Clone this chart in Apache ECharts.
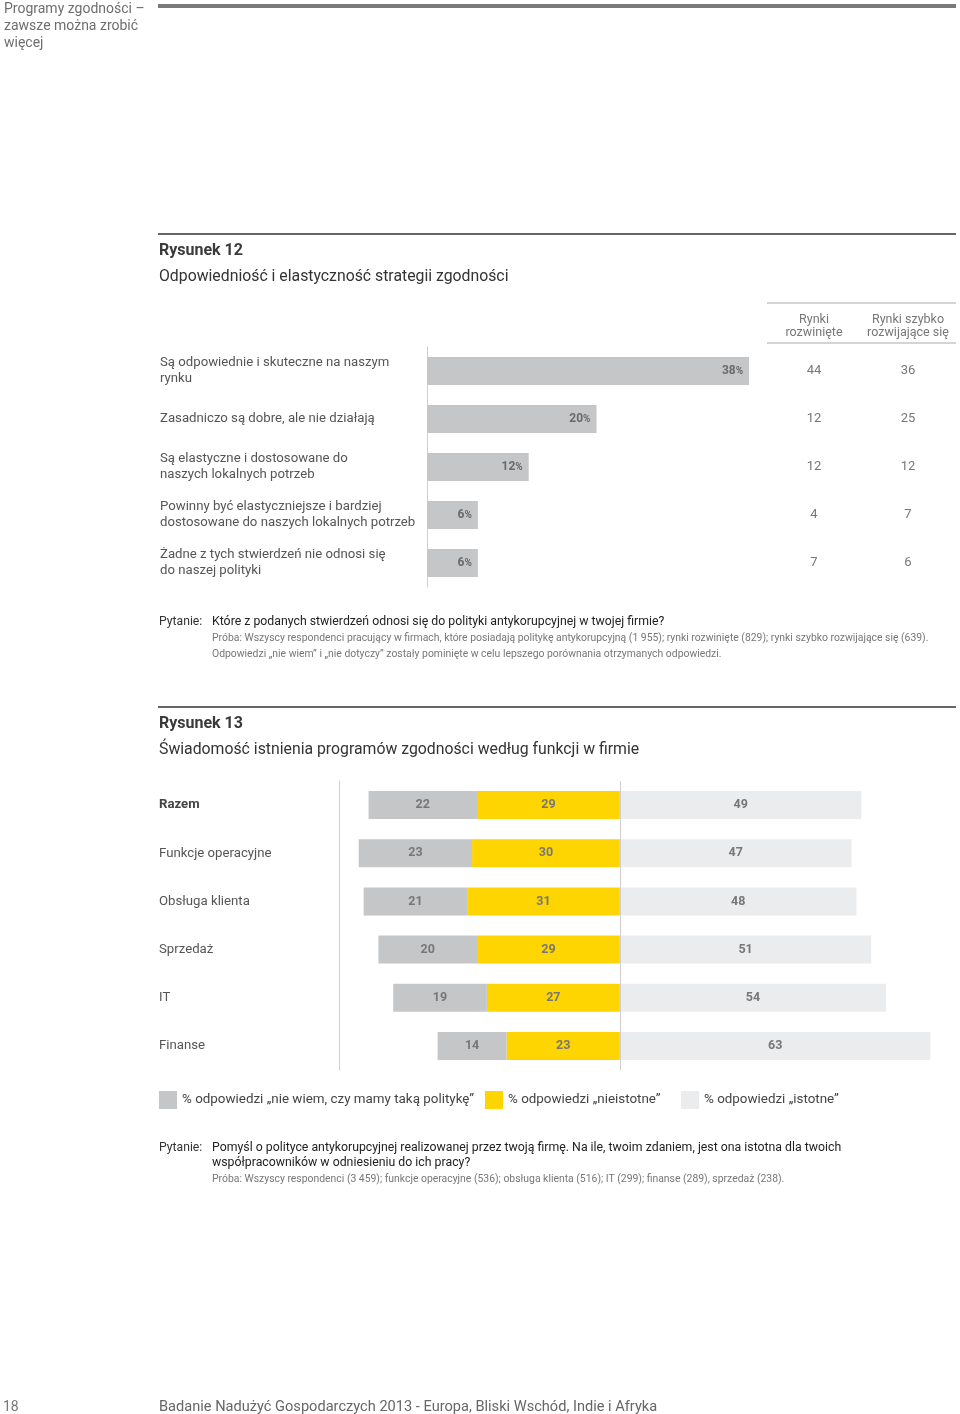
<!DOCTYPE html>
<html><head><meta charset="utf-8">
<script src="https://cdn.jsdelivr.net/npm/echarts@6/dist/echarts.min.js"></script>
<style>html,body{margin:0;padding:0;background:#fff}#c{width:960px;height:1414px}</style>
</head><body><div id="c"></div>
<script>
// ---- Data: Rysunek 12 ----
const cat12 = [
  'Są odpowiednie i skuteczne na naszym\nrynku',
  'Zasadniczo są dobre, ale nie działają',
  'Są elastyczne i dostosowane do\nnaszych lokalnych potrzeb',
  'Powinny być elastyczniejsze i bardziej\ndostosowane do naszych lokalnych potrzeb',
  'Żadne z tych stwierdzeń nie odnosi się\ndo naszej polityki'
];
const total12 = [38, 20, 12, 6, 6];
const developed12 = [44, 12, 12, 4, 7];
const emerging12 = [36, 25, 12, 7, 6];
const colHeaders12 = ['Rynki\nrozwinięte', 'Rynki szybko\nrozwijające się'];

// ---- Data: Rysunek 13 ----
const cat13 = ['Razem', 'Funkcje operacyjne', 'Obsługa klienta', 'Sprzedaż', 'IT', 'Finanse'];
const dontKnow13 = [22, 23, 21, 20, 19, 14];
const notImportant13 = [29, 30, 31, 29, 27, 23];
const important13 = [49, 47, 48, 51, 54, 63];
const legendNames13 = ['% odpowiedzi „nie wiem, czy mamy taką politykę”', '% odpowiedzi „nieistotne”', '% odpowiedzi „istotne”'];

const FONT = 'Roboto, "Noto Sans", sans-serif';
const C_GRAY = '#c5c6c8', C_YEL = '#fed500', C_LIGHT = '#ebeced';

function txt(x, y, text, size, color, weight, extra) {
  return Object.assign({type: 'text', x: x, y: y, silent: true,
    style: Object.assign({text: text, fill: color || '#555', fontSize: size, fontFamily: FONT,
      fontWeight: weight || 'normal', verticalAlign: 'middle', align: 'left'}, extra || {})});
}
function rect(x, y, w, h, fill) {
  return {type: 'rect', silent: true, shape: {x: x, y: y, width: w, height: h}, style: {fill: fill}};
}

const chart = echarts.init(document.getElementById('c'), null, {renderer: 'canvas'});

const graphics = [
  // top header
  txt(4, 9, 'Programy zgodności –', 14, '#6e6e6e'),
  txt(4, 26, 'zawsze można zrobić', 14, '#6e6e6e'),
  txt(4, 43, 'więcej', 14, '#6e6e6e'),
  rect(158, 4, 798, 4, '#7a7a7a'),
  // Rysunek 12
  rect(158, 233, 798, 2, '#666'),
  txt(159, 251, 'Rysunek 12', 16, '#3a3a3a', 'bold'),
  txt(159, 277, 'Odpowiedniość i elastyczność strategii zgodności', 15.8, '#333'),
  rect(767, 302, 189, 2, '#d4d4d4'),
  rect(767, 342, 189, 2, '#d4d4d4'),
  txt(814, 326, colHeaders12[0], 12.5, '#777', 'normal', {align: 'center', lineHeight: 13}),
  txt(908, 326, colHeaders12[1], 12.5, '#777', 'normal', {align: 'center', lineHeight: 13}),
  txt(159, 622, 'Pytanie:', 12.2, '#333'),
  txt(212, 622, 'Które z podanych stwierdzeń odnosi się do polityki antykorupcyjnej w twojej firmie?', 12.3, '#222'),
  txt(212, 638, 'Próba: Wszyscy respondenci pracujący w firmach, które posiadają politykę antykorupcyjną (1 955); rynki rozwinięte (829); rynki szybko rozwijające się (639).', 10.4, '#777'),
  txt(212, 654, 'Odpowiedzi „nie wiem” i „nie dotyczy” zostały pominięte w celu lepszego porównania otrzymanych odpowiedzi.', 10.4, '#777'),
  // Rysunek 13
  rect(158, 706, 798, 2, '#666'),
  txt(159, 724, 'Rysunek 13', 16, '#3a3a3a', 'bold'),
  txt(159, 750, 'Świadomość istnienia programów zgodności według funkcji w firmie', 15.8, '#333'),
  txt(159, 1148, 'Pytanie:', 12.2, '#333'),
  txt(212, 1148, 'Pomyśl o polityce antykorupcyjnej realizowanej przez twoją firmę. Na ile, twoim zdaniem, jest ona istotna dla twoich', 12.3, '#222'),
  txt(212, 1163, 'współpracowników w odniesieniu do ich pracy?', 12.3, '#222'),
  txt(212, 1179, 'Próba: Wszyscy respondenci (3 459); funkcje operacyjne (536); obsługa klienta (516); IT (299); finanse (289), sprzedaż (238).', 10.4, '#777'),
  // footer
  txt(3, 1407, '18', 14, '#777'),
  txt(159, 1407, 'Badanie Nadużyć Gospodarczych 2013 - Europa, Bliski Wschód, Indie i Afryka', 14.6, '#666')
];

const barLabelRich = {
  v: {fontSize: 12, fontWeight: 'bold', color: '#6a6a6a', fontFamily: FONT},
  p: {fontSize: 10, fontWeight: 'bold', color: '#6a6a6a', fontFamily: FONT}
};
const legendText = {fontSize: 13.4, color: '#444', fontFamily: FONT};

const option = {
  backgroundColor: '#fff',
  animation: false,
  textStyle: {fontFamily: FONT},
  graphic: graphics,
  legend: [
    {data: [legendNames13[0]], left: 159, top: 1091, padding: 0, itemWidth: 18, itemHeight: 18, icon: 'rect',
      textStyle: legendText, selectedMode: false},
    {data: [legendNames13[1]], left: 485, top: 1091, padding: 0, itemWidth: 18, itemHeight: 18, icon: 'rect',
      textStyle: legendText, selectedMode: false},
    {data: [legendNames13[2]], left: 681, top: 1091, padding: 0, itemWidth: 18, itemHeight: 18, icon: 'rect',
      textStyle: legendText, selectedMode: false}
  ],
  grid: [
    {left: 427, top: 347, width: 339, height: 240, containLabel: false},
    {left: 339, top: 781, width: 616, height: 289, containLabel: false}
  ],
  xAxis: [
    {gridIndex: 0, type: 'value', min: 0, max: 40, show: false},
    {gridIndex: 1, type: 'value', min: -57, max: 68, show: false}
  ],
  yAxis: [
    {gridIndex: 0, type: 'category', data: cat12, inverse: true,
      axisLine: {show: true, lineStyle: {color: '#cfcfcf', width: 1}}, axisTick: {show: false},
      axisLabel: {align: 'left', margin: 267, fontSize: 13.2, color: '#555', lineHeight: 16, fontFamily: FONT}},
    {gridIndex: 0, type: 'category', data: cat12, inverse: true, position: 'right',
      axisLine: {show: false}, axisTick: {show: false},
      axisLabel: {align: 'center', margin: 48, fontSize: 13, color: '#777', fontFamily: FONT,
        formatter: (v, i) => String(developed12[i])}},
    {gridIndex: 0, type: 'category', data: cat12, inverse: true, position: 'right',
      axisLine: {show: false}, axisTick: {show: false},
      axisLabel: {align: 'center', margin: 142, fontSize: 13, color: '#777', fontFamily: FONT,
        formatter: (v, i) => String(emerging12[i])}},
    {gridIndex: 1, type: 'category', data: cat13, inverse: true,
      axisLine: {show: true, onZero: false, lineStyle: {color: '#cfcfcf', width: 1}}, axisTick: {show: false},
      axisLabel: {align: 'left', margin: 180, fontSize: 13.2, color: '#555', fontFamily: FONT,
        formatter: (v, i) => i === 0 ? '{b|' + v + '}' : v,
        rich: {b: {fontWeight: 'bold', fontSize: 13.2, color: '#444', fontFamily: FONT}}}}
  ],
  series: [
    {type: 'bar', xAxisIndex: 0, yAxisIndex: 0, data: total12, barWidth: 28,
      itemStyle: {color: C_GRAY},
      label: {show: true, position: 'insideRight', distance: 6,
        formatter: p => '{v|' + p.value + '}{p|%}', rich: barLabelRich}},
    {name: legendNames13[1], type: 'bar', xAxisIndex: 1, yAxisIndex: 3, stack: 's',
      data: notImportant13.map(v => -v), barWidth: 28, itemStyle: {color: C_YEL},
      label: {show: true, position: 'inside', fontSize: 12.5, fontWeight: 'bold', color: '#777',
        formatter: p => String(Math.abs(p.value))},
      markLine: {silent: true, symbol: 'none', label: {show: false},
        lineStyle: {color: '#cfcfcf', width: 1, type: 'solid'}, data: [{xAxis: 0}]}},
    {name: legendNames13[0], type: 'bar', xAxisIndex: 1, yAxisIndex: 3, stack: 's',
      data: dontKnow13.map(v => -v), barWidth: 28, itemStyle: {color: C_GRAY},
      label: {show: true, position: 'inside', fontSize: 12.5, fontWeight: 'bold', color: '#777',
        formatter: p => String(Math.abs(p.value))}},
    {name: legendNames13[2], type: 'bar', xAxisIndex: 1, yAxisIndex: 3, stack: 's',
      data: important13, barWidth: 28, itemStyle: {color: C_LIGHT},
      label: {show: true, position: 'inside', fontSize: 12.5, fontWeight: 'bold', color: '#777',
        formatter: p => String(Math.abs(p.value))}}
  ]
};
chart.setOption(option);
</script></body></html>
